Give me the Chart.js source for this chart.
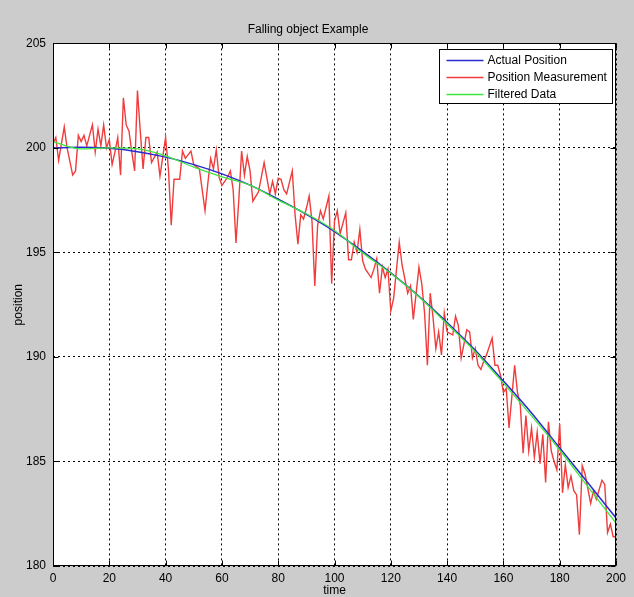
<!DOCTYPE html>
<html>
<head>
<meta charset="utf-8">
<script src="https://cdn.jsdelivr.net/npm/chart.js@4.4.0/dist/chart.umd.min.js"></script>
<style>
html,body{margin:0;padding:0;background:#cccccc;}
#c{display:block;}
</style>
</head>
<body>
<canvas id="c" width="634" height="597"></canvas>
<script>
// ---- data ----
const chartTitle = 'Falling object Example';
const xLabel = 'time';
const yLabel = 'position';
const seriesNames = ['Actual Position', 'Position Measurement', 'Filtered Data'];
const xTickValues = [0, 20, 40, 60, 80, 100, 120, 140, 160, 180, 200];
const yTickValues = [180, 185, 190, 195, 200, 205];

const actualT   = [0, 10, 20, 30, 40, 50, 60, 70, 80, 90, 100, 110, 120, 130, 140, 150, 160, 170, 180, 190, 200];
const actualPos = [200.00, 200.03, 199.98, 199.82, 199.56, 199.20, 198.76, 198.22, 197.55, 196.82, 196.00,
                   195.05, 194.02, 192.90, 191.65, 190.32, 188.85, 187.32, 185.65, 183.98, 182.30];
const filtPos   = [200.30, 199.95, 200.00, 199.95, 199.62, 199.08, 198.62, 198.22, 197.50, 196.85, 196.05,
                   194.98, 194.00, 192.88, 191.58, 190.25, 188.75, 187.18, 185.55, 183.80, 182.05];

const measT = [0,1,2,4,5,7,8,9,10,11,12,14,15,16,17,18,19,20,21,22,23,24,25,26,27,28,29,30,31,32,33,34,35,37,38,40,
  41,42,43,45,46,47,49,50,52,54,55,56,57,58,59,60,62,63,64,65,66,67,68,69,70,71,73,75,77,78,79,80,81,82,83,85,
  86,87,88,89,90,91,92,93,94,95,96,98,99,100,101,102,104,105,106,107,108,109,110,111,113,114,115,116,117,118,119,120,
  121,123,124,126,127,128,130,131,132,133,134,135,136,137,138,139,140,142,143,144,145,147,148,149,150,151,152,153,154,
  156,157,158,159,160,161,162,164,165,166,167,168,169,170,171,172,173,174,175,176,177,178,179,180,181,182,183,184,185,
  186,187,188,189,191,192,193,195,196,197,198,199,200];
const measPos = [200.2,200.5,199.4,201.0,200.0,198.7,198.9,200.6,200.3,200.6,200.1,201.1,199.8,200.9,200.1,201.1,200.0,200.4,199.2,199.8,200.5,198.7,202.4,201.1,200.8,199.8,198.9,202.75,200.8,199.0,200.5,200.5,199.3,199.8,198.65,200.5,
  199.0,196.3,198.5,198.5,199.85,199.5,199.85,199.2,199.0,197.0,198.3,199.5,199.0,199.9,198.6,198.2,198.6,198.9,198.0,195.45,197.5,199.85,198.7,199.6,198.9,197.45,197.9,199.3,197.8,198.4,197.8,198.55,198.5,198.0,197.8,198.9,
  196.8,195.4,196.8,196.6,197.1,197.7,196.5,193.4,196.3,197.0,196.6,197.7,193.5,196.5,197.0,195.9,196.9,194.65,194.65,195.5,195.0,196.1,194.6,194.2,193.8,194.2,194.7,193.05,194.3,193.8,194.2,192.2,
  192.8,195.5,194.4,193.05,193.4,191.8,194.3,193.5,192.1,189.6,193.05,191.9,190.4,191.2,190.1,192.1,191.2,191.05,191.95,191.5,189.95,191.3,191.2,189.95,190.4,189.6,189.4,189.8,190.1,
  190.9,189.6,189.6,189.1,188.3,188.5,186.6,189.6,188.3,187.7,185.4,187.2,185.5,186.6,185.2,186.4,184.9,186.3,184.0,186.9,185.5,185.0,184.6,186.8,183.5,184.85,183.75,184.3,183.6,
  183.4,181.5,184.8,184.4,183.0,183.6,183.2,184.1,183.9,181.6,182.0,181.4,181.4];

// ---- build chart ----
const FONT = '"Liberation Sans", Arial, Helvetica, sans-serif';
const COLORS = ['#2a2ad0', '#f03c3c', '#3ee63e'];
const pts = (xs, ys) => xs.map((x, i) => ({x: x, y: ys[i]}));

const bgPlugin = {
  id: 'bg',
  beforeDraw(chart) {
    const {ctx, chartArea: a} = chart;
    ctx.save();
    ctx.fillStyle = '#cccccc';
    ctx.fillRect(0, 0, chart.width, chart.height);
    ctx.fillStyle = '#ffffff';
    ctx.fillRect(a.left, a.top, a.right - a.left, a.bottom - a.top);
    ctx.restore();
  }
};

const framePlugin = {
  id: 'frame',
  afterDraw(chart) {
    const {ctx, chartArea: a, scales} = chart;
    ctx.save();
    ctx.strokeStyle = '#000';
    ctx.lineWidth = 1;
    ctx.setLineDash([]);
    const L = Math.round(a.left) + 0.5, R = Math.round(a.right) - 0.5;
    const T = Math.round(a.top) + 0.5, B = Math.round(a.bottom) - 0.5;
    const tl = 5;
    ctx.beginPath();
    xTickValues.forEach(v => {
      const px = Math.round(scales.x.getPixelForValue(v)) + 0.5;
      ctx.moveTo(px, T); ctx.lineTo(px, T + tl);
      ctx.moveTo(px, B); ctx.lineTo(px, B - tl);
    });
    yTickValues.forEach(v => {
      const py = Math.round(scales.y.getPixelForValue(v)) + 0.5;
      ctx.moveTo(L, py); ctx.lineTo(L + tl, py);
      ctx.moveTo(R, py); ctx.lineTo(R - tl, py);
    });
    ctx.stroke();
    ctx.strokeRect(L, T, R - L, B - T);

    // legend box inside the axes (top-right)
    const w = 173, h = 54;
    const lx = Math.round(a.right - 4 - w) + 0.5, ly = Math.round(a.top + 6) + 0.5;
    ctx.fillStyle = '#fff';
    ctx.fillRect(lx, ly, w, h);
    ctx.strokeStyle = '#000';
    ctx.strokeRect(lx, ly, w, h);
    ctx.font = '12px ' + FONT;
    ctx.textBaseline = 'middle';
    ctx.textAlign = 'left';
    chart.data.datasets.forEach((ds, i) => {
      const yy = Math.round(ly + 10 + i * 17) + 0.5;
      ctx.strokeStyle = ds.borderColor;
      ctx.lineWidth = 1.5;
      ctx.beginPath();
      ctx.moveTo(lx + 7, yy); ctx.lineTo(lx + 44, yy);
      ctx.stroke();
      ctx.fillStyle = '#000';
      ctx.fillText(ds.label, lx + 48, yy);
    });
    ctx.restore();
  }
};

new Chart(document.getElementById('c'), {
  type: 'line',
  data: {
    datasets: [
      {label: seriesNames[0], data: pts(actualT, actualPos), borderColor: COLORS[0], borderWidth: 1.5,
       pointRadius: 0, cubicInterpolationMode: 'monotone', order: 1},
      {label: seriesNames[1], data: pts(measT, measPos), borderColor: COLORS[1], borderWidth: 1.4,
       pointRadius: 0, tension: 0, order: 2},
      {label: seriesNames[2], data: pts(actualT, filtPos), borderColor: COLORS[2], borderWidth: 1.3,
       pointRadius: 0, cubicInterpolationMode: 'monotone', order: 0}
    ]
  },
  options: {
    responsive: false,
    animation: false,
    devicePixelRatio: 1,
    layout: {padding: {left: 0, right: 18, top: 0, bottom: 0}},
    plugins: {
      legend: {display: false},
      tooltip: {enabled: false},
      title: {display: true, text: chartTitle, color: '#000',
              font: {family: FONT, size: 12, weight: 'normal', lineHeight: 1.2},
              padding: {top: 22, bottom: 7}}
    },
    scales: {
      x: {
        type: 'linear', min: 0, max: 200,
        afterBuildTicks: s => { s.ticks = xTickValues.map(v => ({value: v})); },
        afterFit: s => { s.height = 31; },
        ticks: {font: {family: FONT, size: 12}, color: '#000', padding: 5, maxRotation: 0, autoSkip: false},
        grid: {color: '#000', lineWidth: 1, drawTicks: false},
        border: {display: false, dash: [2, 3]},
        title: {display: true, text: xLabel, color: '#000', font: {family: FONT, size: 12, lineHeight: 1}, padding: 0}
      },
      y: {
        type: 'linear', min: 180, max: 205,
        afterBuildTicks: s => { s.ticks = yTickValues.map(v => ({value: v})); },
        afterFit: s => { s.width = 53; },
        ticks: {font: {family: FONT, size: 12}, color: '#000', padding: 7, autoSkip: false},
        grid: {color: '#000', lineWidth: 1, drawTicks: false},
        border: {display: false, dash: [2, 3]},
        title: {display: true, text: yLabel, color: '#000', font: {family: FONT, size: 12, lineHeight: 1.2}, padding: {top: 11, bottom: 0}}
      }
    }
  },
  plugins: [bgPlugin, framePlugin]
});
</script>
</body>
</html>
